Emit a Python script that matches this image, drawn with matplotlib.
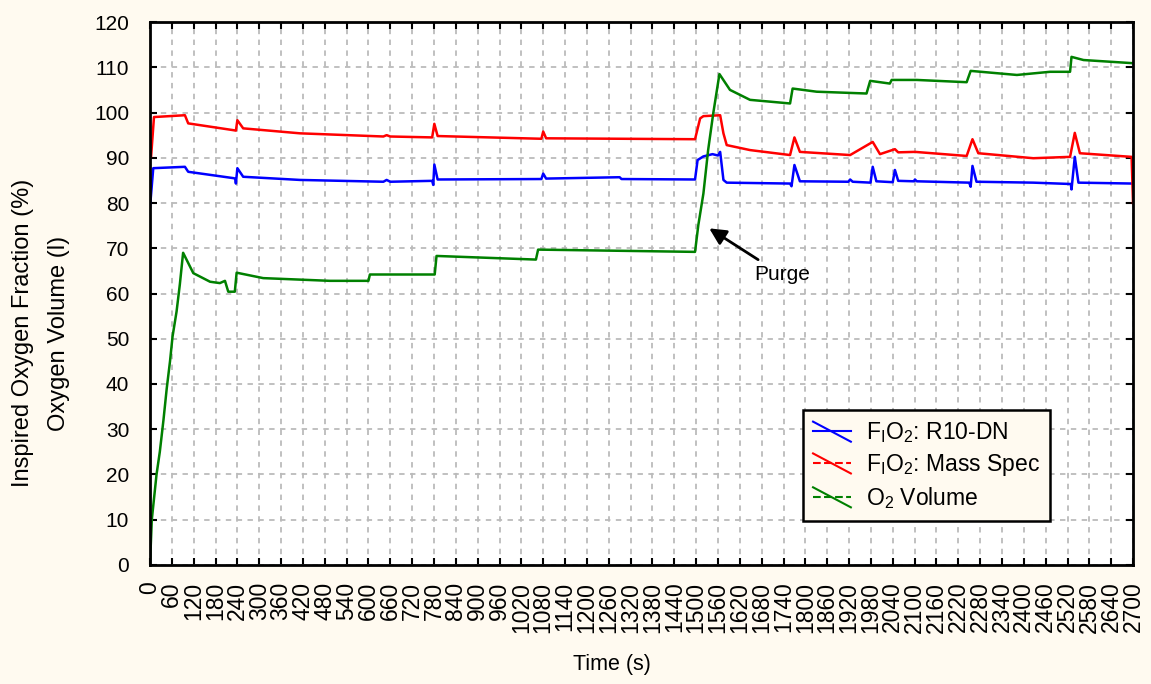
import numpy as np
import matplotlib
matplotlib.use("Agg")
import matplotlib.pyplot as plt
from matplotlib.legend_handler import HandlerBase
from matplotlib.lines import Line2D

plt.rcParams['font.family'] = ['Liberation Sans', 'DejaVu Sans']
plt.rcParams['mathtext.fontset'] = 'custom'
plt.rcParams['mathtext.rm'] = 'Liberation Sans'
plt.rcParams['mathtext.it'] = 'Liberation Sans'

# data
t_r10 = [0, 9, 96, 105, 229, 234, 236, 240, 256, 412, 641, 650, 660, 775,
         778, 781, 790, 1075, 1080, 1088, 1290, 1295, 1497, 1504, 1520, 1545,
         1560, 1566, 1575, 1584, 1758, 1762, 1770, 1785, 1918, 1923, 1930,
         1979, 1985, 1995, 2040, 2046, 2055, 2098, 2101, 2106, 2250, 2254,
         2259, 2270, 2426, 2529, 2531, 2540, 2550, 2700]
v_r10 = [79, 87.7, 88, 86.9, 85.5, 85.4, 84.3, 87.7, 85.8, 85.1, 84.7, 85.1,
         84.7, 84.9, 84.0, 88.5, 85.2, 85.3, 86.5, 85.4, 85.7, 85.3, 85.2,
         89.5, 90.3, 90.8, 90.5, 91.3, 85.1, 84.5, 84.3, 83.7, 88.4, 84.8,
         84.7, 85.2, 84.7, 84.5, 88.0, 84.8, 84.6, 87.3, 84.9, 84.8, 85.2,
         84.8, 84.5, 83.6, 88.2, 84.7, 84.5, 84.2, 83.0, 90.2, 84.5, 84.3]

t_ms = [0, 3, 11, 96, 105, 229, 236, 240, 256, 412, 641, 650, 660, 775, 781,
        790, 1075, 1080, 1088, 1497, 1511, 1520, 1566, 1575, 1584, 1648, 1758,
        1770, 1785, 1923, 1985, 2005, 2046, 2055, 2101, 2243, 2259, 2275, 2426,
        2527, 2540, 2554, 2696, 2700]
v_ms = [90, 90.2, 99, 99.4, 97.6, 96.1, 96.0, 98.3, 96.5, 95.4, 94.7, 95.0,
        94.7, 94.5, 97.5, 94.8, 94.2, 95.8, 94.3, 94.1, 98.7, 99.2, 99.4, 95.4,
        92.8, 91.7, 90.6, 94.5, 91.3, 90.6, 93.5, 90.8, 91.9, 91.2, 91.3, 90.4,
        94.1, 91.0, 89.9, 90.2, 95.5, 91.0, 90.2, 80]

t_vol = [0, 5, 18, 27, 37, 46, 55, 62, 73, 82, 91, 119, 165, 192, 206, 215,
         233, 238, 311, 494, 600, 604, 782, 787, 1060, 1066, 1497, 1506, 1520,
         1533, 1547, 1564, 1593, 1648, 1758, 1765, 1831, 1968, 1978, 2032,
         2037, 2106, 2243, 2254, 2381, 2472, 2527, 2531, 2564, 2700]
v_vol = [0, 10, 20, 25, 32, 39, 45, 50.5, 56, 62, 69, 64.5, 62.6, 62.3, 62.8,
         60.4, 60.4, 64.6, 63.4, 62.8, 62.8, 64.2, 64.2, 68.3, 67.5, 69.7,
         69.2, 75.1, 82.1, 91.7, 99.8, 108.5, 105, 102.8, 102, 105.3, 104.6,
         104.2, 107, 106.4, 107.2, 107.2, 106.7, 109.2, 108.3, 109, 109, 112.3,
         111.6, 110.9]

x_ticks = list(range(0, 2701, 60))
y_ticks = list(range(0, 121, 10))
labels = [r'F$_\mathregular{I}$O$_\mathregular{2}$: R10-DN',
          r'F$_\mathregular{I}$O$_\mathregular{2}$: Mass Spec',
          r'O$_\mathregular{2}$ Volume']

bg = '#fffaf0'


class HandlerCross(HandlerBase):
    def create_artists(self, legend, orig, xd, yd, w, h, fontsize, trans):
        mid = Line2D([xd, xd + w], [yd + h / 2, yd + h / 2], color=orig.get_color(),
                     linestyle=orig.get_linestyle(), linewidth=1.5, transform=trans)
        diag = Line2D([xd, xd + w], [yd + h * 1.1, yd - h * 0.15], color=orig.get_color(),
                      linewidth=1.5, transform=trans)
        return [mid, diag]


fig = plt.figure(figsize=(11.51, 6.84), dpi=100, facecolor=bg)
ax = fig.add_axes([0.1303, 0.174, 0.8541, 0.7938])
ax.set_facecolor('white')

ax.plot(t_r10, v_r10, color='#0000ff', lw=1.8)
ax.plot(t_ms, v_ms, color='#ff0000', lw=1.8)
ax.plot(t_vol, v_vol, color='#008000', lw=1.8)

ax.set_xlim(0, 2700)
ax.set_ylim(0, 120)
ax.set_xticks(x_ticks)
ax.set_xticklabels([str(v) for v in x_ticks], rotation=90, fontsize=16.5)
ax.set_yticks(y_ticks)
ax.tick_params(axis='y', labelsize=15, pad=15)
ax.tick_params(axis='x', pad=12)
ax.tick_params(direction='in', length=5, width=1.5, top=True, right=True)
ax.grid(True, color='#bbbbbb', linestyle=(0, (3, 3)), linewidth=1.3)
for s in ax.spines.values():
    s.set_linewidth(2)

hb = Line2D([], [], color='#0000ff', linestyle='-')
hr = Line2D([], [], color='#ff0000', linestyle=(0, (4, 2)))
hg = Line2D([], [], color='#008000', linestyle=(0, (1.5, 1.5)))
leg = ax.legend([hb, hr, hg], labels, handler_map={Line2D: HandlerCross()},
                loc='upper left', bbox_to_anchor=(0.664, 0.2855), fontsize=16.5,
                frameon=True, fancybox=False, framealpha=1, edgecolor='black',
                facecolor=bg, handlelength=1.65, handletextpad=0.65,
                borderpad=0.45, labelspacing=0.3, borderaxespad=0)
leg.get_frame().set_linewidth(1.8)

ax.annotate('Purge', xy=(1536, 74.4), xytext=(1659, 64.1), fontsize=15,
            va='center', ha='left',
            arrowprops=dict(arrowstyle='-|>', color='black', lw=2,
                            mutation_scale=25, shrinkA=4, shrinkB=0))

fig.text(0.020, 0.513, 'Inspired Oxygen Fraction (%)', rotation=90,
         ha='center', va='center', fontsize=17)
fig.text(0.0513, 0.513, 'Oxygen Volume (l)', rotation=90,
         ha='center', va='center', fontsize=17)
fig.text(0.532, 0.028, 'Time (s)', ha='center', va='center', fontsize=15.5)

fig.savefig('out.png', dpi=100, facecolor=bg)
